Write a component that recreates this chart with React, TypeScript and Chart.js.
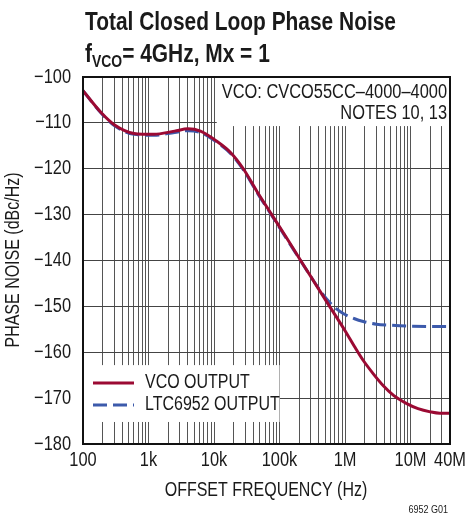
import React, { useEffect, useRef } from "react";
import { Chart, registerables } from "chart.js";

Chart.register(...registerables);

const FONT = '"Liberation Sans", Arial, sans-serif';
const NARROW = 0.82;

const TITLE_LINE1 = "Total Closed Loop Phase Noise";
const TITLE_LINE2_PRE = "f";
const TITLE_LINE2_SUB = "VCO";
const TITLE_LINE2_POST = "= 4GHz, Mx = 1";
const ANNOT_LINES = ["VCO: CVCO55CC\u20134000\u20134000", "NOTES 10, 13"];
const X_TITLE = "OFFSET FREQUENCY (Hz)";
const Y_TITLE = "PHASE NOISE (dBc/Hz)";
const FIG_ID = "6952 G01";

const X_TICK_VALUES = [100, 1e3, 1e4, 1e5, 1e6, 1e7, 4e7];
const X_TICK_LABELS = ["100", "1k", "10k", "100k", "1M", "10M", "40M"];
const Y_TICK_VALUES = [-100, -110, -120, -130, -140, -150, -160, -170, -180];
const Y_MIN = -180;
const Y_MAX = -100;
const Y_STEP = 10;

const VCO_FREQ = [100, 190, 300, 600, 1200, 2500, 4000, 6200, 11000, 18000, 28000, 45000, 76000, 130000, 200000, 300000, 450000, 700000, 1000000, 1400000, 1900000, 2700000, 3840000, 5500000, 8750000, 13000000, 20000000, 28000000, 40000000];
const VCO_DB = [-103, -107.8, -110.4, -112.3, -112.5, -111.8, -111.3, -111.8, -114, -116.5, -120, -124.9, -130, -135.2, -139.5, -143.5, -147.5, -151.8, -155.3, -158.8, -161.8, -164.7, -167.3, -169.4, -171.2, -172.3, -173, -173.3, -173.3];

const LTC_FREQ = [100, 190, 300, 600, 1200, 2500, 4000, 6200, 11000, 18000, 28000, 45000, 76000, 130000, 200000, 300000, 450000, 600000, 750000, 950000, 1400000, 1900000, 3000000, 4900000, 10000000, 40000000];
const LTC_DB = [-103, -107.9, -110.6, -112.5, -112.7, -112.1, -111.7, -112.1, -114.2, -116.7, -120.2, -125.1, -130.2, -135.4, -139.6, -143.5, -147.2, -149.3, -150.6, -151.6, -152.7, -153.3, -153.9, -154.1, -154.3, -154.4];

const SERIES_LABELS = ["VCO OUTPUT", "LTC6952 OUTPUT"];
const SERIES_COLORS = ["#9b0a33", "#3c5aab"];

function narrowText(ctx: any, text: string, x: number, y: number, size: number, bold = false, align = "left", baseline = "middle") {
  ctx.save();
  ctx.translate(x, y);
  ctx.scale(NARROW, 1);
  ctx.font = `${bold ? "bold " : ""}${size}px ${FONT}`;
  ctx.textAlign = align;
  ctx.textBaseline = baseline;
  ctx.fillText(text, 0, 0);
  const w = ctx.measureText(text).width * NARROW;
  ctx.restore();
  return w;
}

const overlayPlugin = {
  id: "overlay",
  beforeDatasetsDraw(chart: any) {
    const ctx = chart.ctx;
    const x = chart.scales.x;
    const y = chart.scales.y;
    const { left, right, top } = chart.chartArea;
    ctx.save();
    ctx.fillStyle = "#ffffff";
    const ax0 = x.getPixelForValue(11000);
    ctx.fillRect(ax0, top, right - ax0, y.getPixelForValue(-110.7) - top);
    const lx1 = x.getPixelForValue(100000);
    ctx.fillRect(left, y.getPixelForValue(-162.8), lx1 - left, y.getPixelForValue(-175.2) - y.getPixelForValue(-162.8));
    ctx.restore();
  },
  afterDraw(chart: any) {
    const ctx = chart.ctx;
    const xs = chart.scales.x;
    const ys = chart.scales.y;
    const { left, right, top, bottom } = chart.chartArea;
    ctx.save();
    ctx.strokeStyle = "#111";
    ctx.lineWidth = 2;
    ctx.strokeRect(left, top, right - left, bottom - top);

    ctx.fillStyle = "#1a1a1a";
    // title
    narrowText(ctx, TITLE_LINE1, 85, 30, 25.5, true, "left", "alphabetic");
    let tx = 85;
    tx += narrowText(ctx, TITLE_LINE2_PRE, tx, 62, 25.5, true, "left", "alphabetic");
    tx += narrowText(ctx, TITLE_LINE2_SUB, tx, 67, 17, true, "left", "alphabetic");
    narrowText(ctx, TITLE_LINE2_POST, tx, 62, 25.5, true, "left", "alphabetic");

    // annotation
    narrowText(ctx, ANNOT_LINES[0], right - 3, 92, 20, false, "right");
    narrowText(ctx, ANNOT_LINES[1], right - 3, 113, 20, false, "right");

    // legend
    const legY = [383, 405];
    chart.data.datasets.forEach((ds: any, i: number) => {
      ctx.save();
      ctx.strokeStyle = ds.borderColor;
      ctx.lineWidth = 3;
      ctx.setLineDash(ds.borderDash || []);
      ctx.beginPath();
      ctx.moveTo(93, legY[i]);
      ctx.lineTo(134, legY[i]);
      ctx.stroke();
      ctx.restore();
      narrowText(ctx, ds.label, 145, legY[i], 19.5);
    });

    // tick labels
    X_TICK_VALUES.forEach((v, i) => {
      narrowText(ctx, X_TICK_LABELS[i], xs.getPixelForValue(v), 460, 20, false, "center");
    });
    Y_TICK_VALUES.forEach((v) => {
      narrowText(ctx, String(v).replace("-", "\u2212"), 71, ys.getPixelForValue(v), 20, false, "right");
    });

    // axis titles
    narrowText(ctx, X_TITLE, 266, 491, 19.5, false, "center");
    ctx.save();
    ctx.translate(14, 260);
    ctx.rotate(-Math.PI / 2);
    narrowText(ctx, Y_TITLE, 0, 0, 19.5, false, "center");
    ctx.restore();

    narrowText(ctx, FIG_ID, 448, 510, 11, false, "right");
    ctx.restore();
  },
};

export default function App() {
  const ref = useRef<HTMLCanvasElement | null>(null);
  useEffect(() => {
    document.body.style.margin = "0";
    const canvas = ref.current!;
    const chart = new Chart(canvas, {
      type: "line",
      data: {
        datasets: [
          {
            label: SERIES_LABELS[0],
            data: VCO_FREQ.map((f, i) => ({ x: f, y: VCO_DB[i] })),
            borderColor: SERIES_COLORS[0],
            borderWidth: 3,
            pointRadius: 0,
            cubicInterpolationMode: "monotone",
            fill: false,
          },
          {
            label: SERIES_LABELS[1],
            data: LTC_FREQ.map((f, i) => ({ x: f, y: LTC_DB[i] })),
            borderColor: SERIES_COLORS[1],
            borderWidth: 3,
            borderDash: [14, 6],
            pointRadius: 0,
            cubicInterpolationMode: "monotone",
            fill: false,
          },
        ],
      },
      options: {
        responsive: false,
        animation: false,
        events: [],
        layout: { padding: { top: 77, right: 19, left: 0, bottom: 0 } },
        plugins: { legend: { display: false }, tooltip: { enabled: false }, title: { display: false } },
        scales: {
          x: {
            type: "logarithmic",
            min: 100,
            max: 4e7,
            afterFit(scale: any) {
              scale.height = 74;
            },
            afterBuildTicks(scale: any) {
              const ticks: any[] = [];
              for (let d = 100; d <= 1e7; d *= 10) {
                for (let m = 1; m <= 9; m++) {
                  const v = d * m;
                  if (v <= 4e7) ticks.push({ value: v });
                }
              }
              scale.ticks = ticks;
            },
            grid: { color: "#555", lineWidth: 1, drawTicks: false },
            border: { display: false },
            ticks: { display: false, autoSkip: false },
          },
          y: {
            min: Y_MIN,
            max: Y_MAX,
            afterFit(scale: any) {
              scale.width = 83;
            },
            grid: { color: "#444", lineWidth: 1, drawTicks: false },
            border: { display: false },
            ticks: { display: false, stepSize: Y_STEP },
          },
        },
      },
      plugins: [overlayPlugin],
    });
    return () => chart.destroy();
  }, []);
  return (
    <div style={{ position: "absolute", left: 0, top: 0, width: 469, height: 518, background: "#fff" }}>
      <canvas ref={ref} width={469} height={518} style={{ width: 469, height: 518, display: "block" }} />
    </div>
  );
}
